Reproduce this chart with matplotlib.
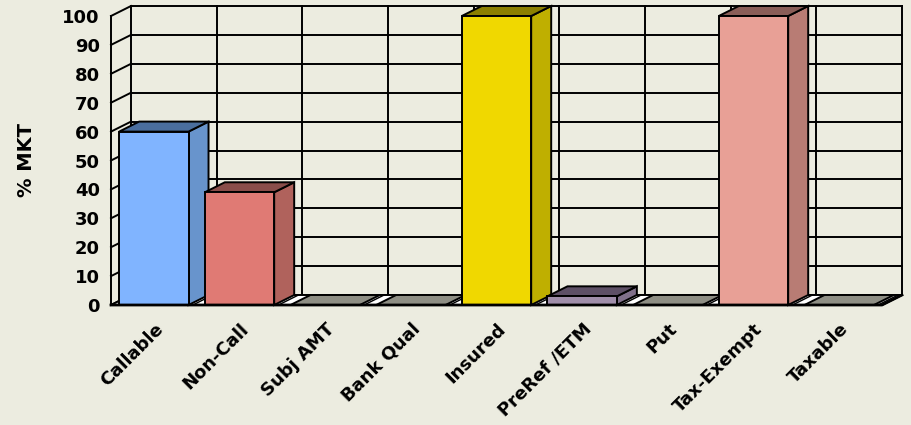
import matplotlib.pyplot as plt
from matplotlib.patches import Polygon

categories = ['Callable', 'Non-Call', 'Subj AMT', 'Bank Qual', 'Insured',
              'PreRef /ETM', 'Put', 'Tax-Exempt', 'Taxable']
values = [60, 39, 0, 0, 100, 3, 0, 100, 0]
yticks = [0, 10, 20, 30, 40, 50, 60, 70, 80, 90, 100]

front_cols = ['#80B4FF', '#E07A74', '#8E8E84', '#8E8E84', '#F0D800',
              '#A08EAA', '#8E8E84', '#E8A096', '#8E8E84']
side_cols = ['#6894CC', '#B0625C', '#8E8E84', '#8E8E84', '#BFAF00',
             '#80708A', '#8E8E84', '#B87C74', '#8E8E84']
top_cols = ['#4A6E9E', '#8A4D4A', '#8E8E84', '#8E8E84', '#8C8000',
            '#5E5066', '#8E8E84', '#8A5E58', '#8E8E84']

bg = '#ECECE0'
n = len(categories)
dx = 20 / 85.67   # depth offset in category units
dy = 10 / 2.89    # depth offset in value units
lw = 1.4

fig = plt.figure(figsize=(9.11, 4.25), dpi=100, facecolor=bg)
ax = fig.add_axes([111 / 911, 120 / 425, 771 / 911, 289 / 425])
ax.set_facecolor(bg)
ax.set_xlim(0, n)
ax.set_ylim(0, 100)
for s in ax.spines.values():
    s.set_visible(False)

# back wall + left wall grid
for v in yticks:
    ax.plot([dx, n + dx], [v + dy, v + dy], color='black', lw=lw, clip_on=False, zorder=1)
    ax.plot([0, dx], [v, v + dy], color='black', lw=lw, clip_on=False, zorder=1)
for k in range(n + 1):
    ax.plot([k + dx, k + dx], [dy, 100 + dy], color='black', lw=lw, clip_on=False, zorder=1)
ax.plot([0, 0], [0, 100], color='black', lw=lw, clip_on=False, zorder=1)

# floor
floor = Polygon([(0, 0), (n, 0), (n + dx, dy), (dx, dy)], closed=True,
                facecolor='white', edgecolor='black', lw=lw, clip_on=False, zorder=2)
ax.add_patch(floor)

w0, w1 = 0.095, 0.905
for i in range(n):
    x0, x1 = i + w0, i + w1
    v = values[i]
    if v <= 0:
        slab = Polygon([(x0, 0), (x1, 0), (x1 + dx, dy), (x0 + dx, dy)], closed=True,
                       facecolor=front_cols[i], edgecolor='black', lw=lw,
                       clip_on=False, zorder=3)
        ax.add_patch(slab)
    # stripe in the gap on the floor
    gx = i + w1 + 0.05
    ax.plot([gx, gx + dx], [0, dy], color='black', lw=1.0, clip_on=False, zorder=2.5)

for i in range(n):
    v = values[i]
    if v <= 0:
        continue
    x0, x1 = i + w0, i + w1
    z = 4 + i * 0.01
    ax.add_patch(Polygon([(x1, 0), (x1 + dx, dy), (x1 + dx, v + dy), (x1, v)], closed=True,
                         facecolor=side_cols[i], edgecolor='black', lw=lw, clip_on=False, zorder=z))
    ax.add_patch(Polygon([(x0, v), (x1, v), (x1 + dx, v + dy), (x0 + dx, v + dy)], closed=True,
                         facecolor=top_cols[i], edgecolor='black', lw=lw, clip_on=False, zorder=z))
    ax.add_patch(Polygon([(x0, 0), (x1, 0), (x1, v), (x0, v)], closed=True,
                         facecolor=front_cols[i], edgecolor='black', lw=lw, clip_on=False, zorder=z))

# front floor edge
ax.plot([0, n, n + dx], [0, 0, dy], color='black', lw=lw + 0.6, clip_on=False, zorder=6)

ax.set_xticks([])
ax.set_yticks(yticks)
ax.set_yticklabels([str(t) for t in yticks], fontsize=13, fontweight='bold')
ax.tick_params(axis='y', length=0, pad=8)

for i, c in enumerate(categories):
    ax.text(i + 0.5, -5.2, c, rotation=45, ha='right', va='top', rotation_mode='anchor',
            fontsize=13, fontweight='bold', clip_on=False)

fig.text(27 / 911, 1 - 160 / 425, '% MKT', rotation=90, ha='center', va='center',
         fontsize=14, fontweight='bold')

fig.savefig('out.png', dpi=100, facecolor=bg)
